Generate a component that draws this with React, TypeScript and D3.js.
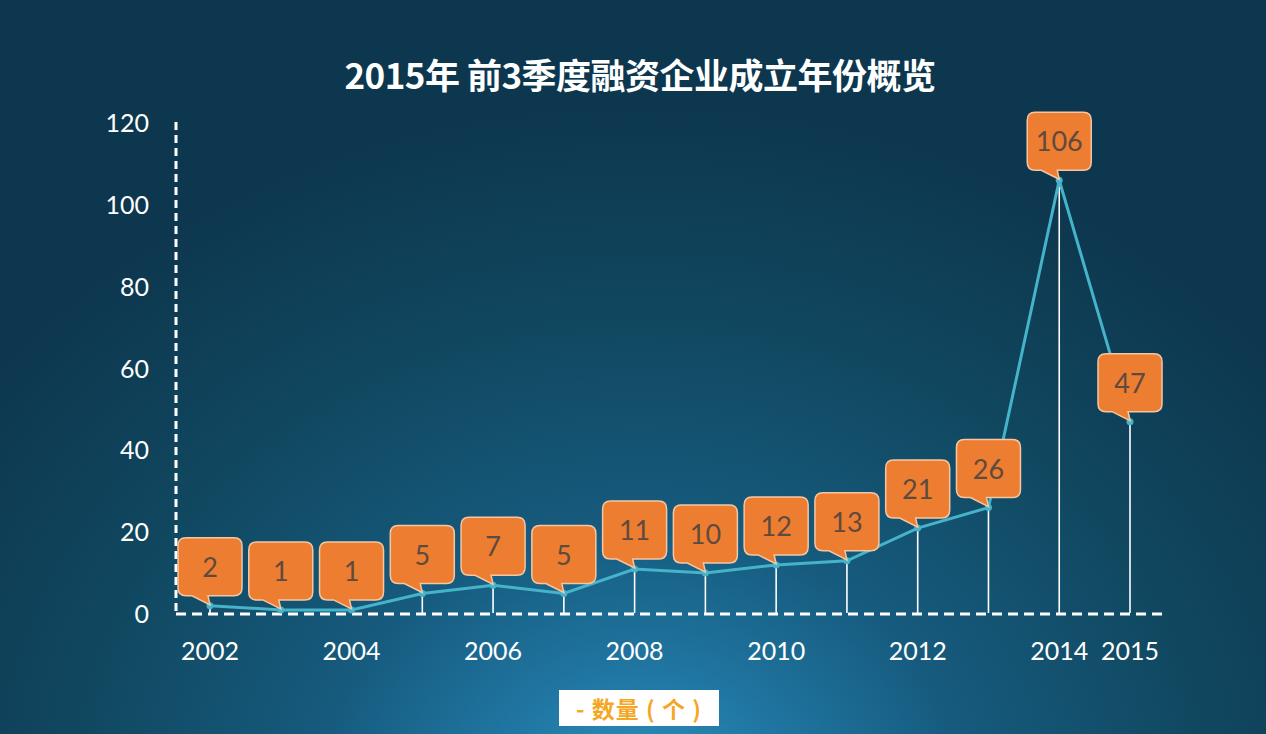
import React from "react";
import * as d3 from "d3";

const years = [2002, 2003, 2004, 2005, 2006, 2007, 2008, 2009, 2010, 2011, 2012, 2013, 2014, 2015];
const counts = [2, 1, 1, 5, 7, 5, 11, 10, 12, 13, 21, 26, 106, 47];
const xTickYears = [2002, 2004, 2006, 2008, 2010, 2012, 2014, 2015];
const yTicks = [0, 20, 40, 60, 80, 100, 120];
const title = "2015年 前3季度融资企业成立年份概览";
const legendLabel = "- 数量 ( 个 )";

const W = 1266;
const H = 734;

export default function App() {
  const x = d3.scaleLinear().domain([2002, 2015]).range([210, 1130]);
  const y = d3.scaleLinear().domain([0, 120]).range([614, 123]);
  const line = d3
    .line<number>()
    .x((_, i) => x(years[i]))
    .y((d) => y(d));
  const font = "Lato, 'Open Sans', 'Noto Sans', sans-serif";
  const boxW = 64;
  const boxH = 58;
  return (
    <svg width={W} height={H} style={{ position: "absolute", left: 0, top: 0, display: "block" }}>
      <defs>
        <radialGradient id="bg" gradientUnits="userSpaceOnUse" cx={640} cy={800} r={820}
          gradientTransform="translate(640 800) scale(1 0.85) translate(-640 -800)">
          <stop offset="0" stopColor="#2f93c0" />
          <stop offset="0.18" stopColor="#2077a3" />
          <stop offset="0.4" stopColor="#165a7d" />
          <stop offset="0.7" stopColor="#10475f" />
          <stop offset="1" stopColor="#0d374e" />
        </radialGradient>
      </defs>
      <rect x={0} y={0} width={W} height={H} fill="url(#bg)" />
      <text x={640} y={89} textAnchor="middle" fill="#ffffff" fontSize={35} fontWeight="bold"
        fontFamily="'Noto Sans CJK SC', sans-serif" letterSpacing={-0.5}>{title}</text>

      {/* axes */}
      <line x1={176} y1={122} x2={176} y2={614} stroke="#ffffff" strokeWidth={3} strokeDasharray="8 5" />
      <line x1={176} y1={614} x2={1166} y2={614} stroke="#ffffff" strokeWidth={3} strokeDasharray="10 6" />
      {yTicks.map((t) => (
        <text key={t} x={149} y={y(t) + 9} textAnchor="end" fill="#ffffff" fontSize={25} fontFamily={font}>{t}</text>
      ))}
      {xTickYears.map((t) => (
        <text key={t} x={x(t)} y={660} textAnchor="middle" fill="#ffffff" fontSize={25} fontFamily={font}>{t}</text>
      ))}

      {/* drop lines */}
      {counts.map((v, i) => (
        <line key={"d" + i} x1={x(years[i])} x2={x(years[i])} y1={y(v)} y2={613} stroke="#ffffff" strokeWidth={1.6} />
      ))}
      <path d={line(counts) || ""} fill="none" stroke="#45b3c9" strokeWidth={3} />
      {counts.map((v, i) => (
        <circle key={"c" + i} cx={x(years[i])} cy={y(v)} r={3.5} fill="#45b3c9" />
      ))}

      {/* callouts */}
      {counts.map((v, i) => {
        const cx = x(years[i]);
        const py = y(v);
        const bottom = py - 10;
        const top = bottom - boxH;
        const left = cx - boxW / 2;
        const right = cx + boxW / 2;
        const r = 8;
        const path =
          `M${left + r},${top} L${right - r},${top} Q${right},${top} ${right},${top + r} ` +
          `L${right},${bottom - r} Q${right},${bottom} ${right - r},${bottom} ` +
          `L${cx - 2},${bottom} L${cx},${py - 1} L${left + 14},${bottom} ` +
          `L${left + r},${bottom} Q${left},${bottom} ${left},${bottom - r} L${left},${top + r} Q${left},${top} ${left + r},${top} Z`;
        return (
          <g key={"b" + i}>
            <path d={path} fill="#ed7d31" stroke="#f3c7a4" strokeWidth={1.5} />
            <text x={cx} y={top + boxH / 2 + 10} textAnchor="middle" fill="#5e4a3e" fontSize={27} fontFamily={font}>{v}</text>
          </g>
        );
      })}

      {/* legend */}
      <rect x={559} y={690} width={160} height={36} fill="#ffffff" />
      <text x={639} y={718} textAnchor="middle" fill="#f5a623" fontSize={23} fontWeight="bold"
        fontFamily="'Noto Sans CJK SC', sans-serif" letterSpacing={1}>{legendLabel}</text>
    </svg>
  );
}
